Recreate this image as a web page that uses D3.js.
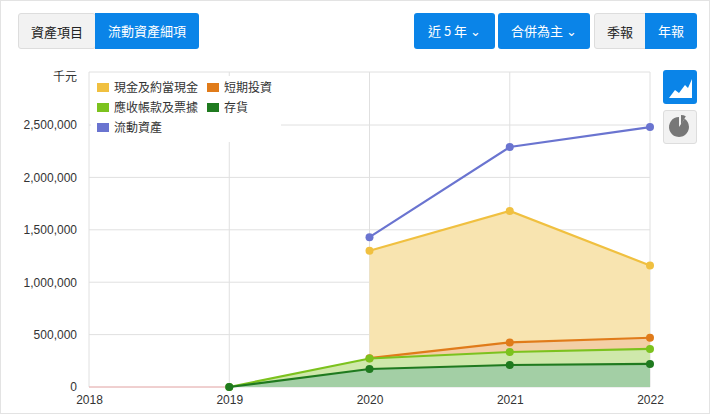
<!DOCTYPE html>
<html><head><meta charset="utf-8">
<script src="https://cdn.jsdelivr.net/npm/d3@7"></script>
<style>
body{margin:0;font-family:"Noto Sans CJK TC","Noto Sans",sans-serif;}
#wrap{position:relative;width:708px;height:412px;border:1px solid #e3e3e3;background:#fff;overflow:hidden}
.btn{position:absolute;top:12px;height:36px;line-height:36px;font-size:13px;text-align:center;box-sizing:border-box}
.blue{background:#0a84e8;color:#fff;border-radius:3px}
.gray{background:#f2f2f2;color:#222;border:1px solid #ddd;border-radius:3px}
svg{position:absolute;left:0;top:0}
</style></head><body>
<div id="wrap">
<div class="btn gray" style="left:17px;width:78px;">資產項目</div>
<div class="btn blue" style="left:94px;width:104px;border-radius:0 3px 3px 0">流動資產細項</div>
<div class="btn blue" style="left:413px;width:81px;">近 5 年 ⌄</div>
<div class="btn blue" style="left:497px;width:92px;">合併為主 ⌄</div>
<div class="btn gray" style="left:593px;width:52px;border-radius:3px 0 0 3px">季報</div>
<div class="btn blue" style="left:644px;width:52px;border-radius:0 3px 3px 0">年報</div>
<div class="btn blue" style="left:662px;top:69px;width:34px;height:34px"></div>
<div class="btn gray" style="left:662px;top:109px;width:34px;height:34px"></div>
<svg id="c" width="708" height="412"></svg>
</div>
<script>
const years = [2018, 2019, 2020, 2021, 2022];
const yTicks = [0, 500000, 1000000, 1500000, 2000000, 2500000];
const cash = [null, null, 1300000, 1680000, 1160000];
const shortInv = [null, null, 275000, 425000, 470000];
const receivables = [null, 0, 272000, 334000, 363000];
const inventory = [null, 0, 172000, 210000, 220000];
const currentAssets = [null, null, 1430000, 2290000, 2480000];

const series = [
  {name:"現金及約當現金", v:cash, c:"#f0c040", fill:"#f8e4b0"},
  {name:"短期投資", v:shortInv, c:"#e07b1a", fill:"#f3cfa6"},
  {name:"應收帳款及票據", v:receivables, c:"#7cc21e", fill:"#cfe8ab"},
  {name:"存貨", v:inventory, c:"#1f7a1f", fill:"#a3cfa5"},
  {name:"流動資產", v:currentAssets, c:"#6a74d0", fill:null}
];

const svg = d3.select("#c");
const x = d3.scaleLinear().domain([2018, 2022]).range([88, 649]);
const y = d3.scaleLinear().domain([0, 2500000]).range([386, 124]);
const g = svg.append("g");

g.selectAll(".hg").data(yTicks.concat([3000000])).enter().append("line")
  .attr("x1", 88).attr("x2", 649).attr("y1", d => d === 3000000 ? 71 : y(d)).attr("y2", d => d === 3000000 ? 71 : y(d))
  .attr("stroke", "#e0e0e0");
g.selectAll(".vg").data(years).enter().append("line")
  .attr("x1", d => x(d)).attr("x2", d => x(d)).attr("y1", 71).attr("y2", 386).attr("stroke", "#e0e0e0");

const yAxis = d3.axisLeft(y).tickValues(yTicks).tickFormat(d3.format(",")).tickSize(0).tickPadding(12);
const ya = g.append("g").attr("transform", "translate(88,0)").call(yAxis);
ya.select(".domain").remove();
ya.selectAll("text").attr("font-size", 12).attr("fill", "#333").attr("font-family", "Liberation Sans, Arial");
g.append("text").attr("x", 76).attr("y", 80).attr("text-anchor", "end").attr("font-size", 12).attr("fill", "#333").text("千元");

const xAxis = d3.axisBottom(x).tickValues(years).tickFormat(d3.format("d")).tickSize(0).tickPadding(8);
const xa = g.append("g").attr("transform", "translate(0,386)").call(xAxis);
xa.select(".domain").remove();
xa.selectAll("text").attr("font-size", 12).attr("fill", "#333").attr("font-family", "Liberation Sans, Arial");
g.append("line").attr("x1", 88).attr("x2", 227).attr("y1", 386).attr("y2", 386).attr("stroke", "#f0b0b0");

const pts = s => years.map((yr, i) => ({yr, v: s.v[i]})).filter(d => d.v !== null);
series.forEach(s => {
  const p = pts(s);
  if (s.fill) g.append("path").datum(p).attr("fill", s.fill)
    .attr("d", d3.area().x(d => x(d.yr)).y0(y(0)).y1(d => y(d.v)));
});
series.forEach(s => {
  const p = pts(s);
  g.append("path").datum(p).attr("fill", "none").attr("stroke", s.c).attr("stroke-width", 2.2)
    .attr("d", d3.line().x(d => x(d.yr)).y(d => y(d.v)));
  g.selectAll(null).data(p).enter().append("circle")
    .attr("cx", d => x(d.yr)).attr("cy", d => y(d.v)).attr("r", 4).attr("fill", s.c);
});

const lg = svg.append("g");
lg.append("rect").attr("x", 90).attr("y", 75).attr("width", 190).attr("height", 66).attr("fill", "#fff");
const pos = [[96,88],[206,88],[96,108],[206,108],[96,128]];
series.forEach((s, i) => {
  lg.append("rect").attr("x", pos[i][0]).attr("y", pos[i][1] - 6).attr("width", 12).attr("height", 9).attr("fill", s.c);
  lg.append("text").attr("x", pos[i][0] + 17).attr("y", pos[i][1] + 3).attr("font-size", 12).attr("fill", "#333").text(s.name);
});

svg.append("path").attr("d", "M668,97 L674,89 L678,92 L684,84 L687,87 L691,78 L691,97 Z").attr("fill", "#fff");
const pie = d3.arc().innerRadius(0).outerRadius(10);
svg.append("path").attr("transform", "translate(678,126)").attr("d", pie({startAngle:0.6, endAngle:2*Math.PI})).attr("fill", "#777");
svg.append("path").attr("transform", "translate(680,124)").attr("d", pie({startAngle:0, endAngle:0.5})).attr("fill", "#777");
</script>
</body></html>
